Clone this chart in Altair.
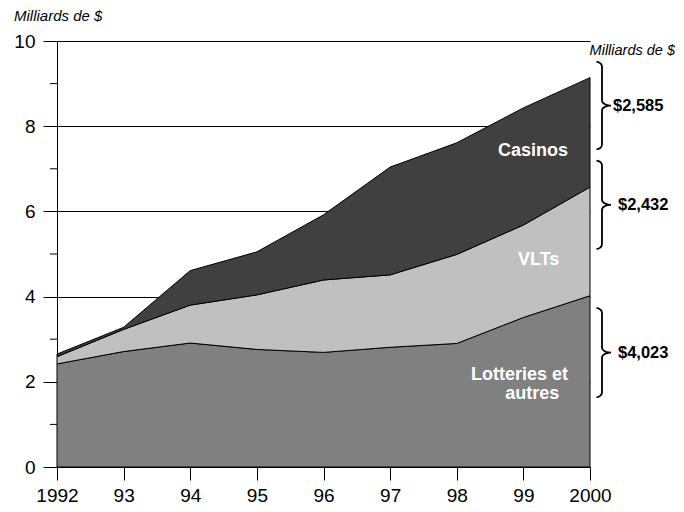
import math
import altair as alt
import pandas as pd

# ---------------- data ----------------
years = [1992, 1993, 1994, 1995, 1996, 1997, 1998, 1999, 2000]
year_labels = ["1992", "93", "94", "95", "96", "97", "98", "99", "2000"]
lotteries = [2.42, 2.71, 2.91, 2.76, 2.69, 2.81, 2.90, 3.51, 4.02]
vlts = [0.17, 0.52, 0.89, 1.28, 1.70, 1.70, 2.09, 2.17, 2.55]
casinos = [0.06, 0.05, 0.81, 1.01, 1.53, 2.53, 2.62, 2.75, 2.57]
series_names = ["Lotteries et autres", "VLTs", "Casinos"]
series_colors = ["#808080", "#c0c0c0", "#404040"]

y_major = [0, 2, 4, 6, 8, 10]
y_minor = [1, 3, 5, 7, 9]

unit_label = "Milliards de $"
brace_amounts = ["$2,585", "$2,432", "$4,023"]
brace_top = [9.51, 7.19, 3.73]
brace_bottom = [7.46, 5.12, 1.64]

inner_labels = ["Casinos", "VLTs", "Lotteries et", "autres"]
inner_x = [1999.67, 1999.54, 1999.67, 1999.54]
inner_y = [7.30, 4.74, 2.04, 1.60]

# ---------------- layout ----------------
W, H = 533, 426
FONT = "Liberation Sans"
PX_PER_YEAR = W / (years[-1] - years[0])
PX_PER_UNIT = H / 10.0

xscale = alt.Scale(domain=[years[0], years[-1]], nice=False, zero=False)
yscale = alt.Scale(domain=[0, 10], nice=False, zero=True)

# stacked area table
rows = []
for vals, name, o in zip([lotteries, vlts, casinos], series_names, range(3)):
    for yr, v in zip(years, vals):
        rows.append({"year": yr, "value": v, "series": name, "ord": o})
area_df = pd.DataFrame(rows)

label_expr = " : ".join(
    f"datum.value == {y} ? '{l}'" for y, l in zip(years, year_labels)
) + " : ''"

area = alt.Chart(area_df).mark_area(stroke="black", strokeWidth=1).encode(
    x=alt.X("year:Q", scale=xscale, title=None, axis=alt.Axis(
        values=years, labelExpr=label_expr, tickSize=13, labelPadding=6,
        labelFontSize=19, labelFont=FONT, labelColor="black",
        labelFlush=False, labelOverlap=False, labelBound=False,
        domainColor="black", tickColor="black", grid=False, title=None)),
    y=alt.Y("value:Q", stack="zero", scale=yscale, title=None, axis=alt.Axis(
        values=y_major, tickSize=14, labelPadding=8, labelFontSize=19,
        labelFont=FONT, labelColor="black", domainColor="black",
        labelFlush=False, labelOverlap=False, labelBound=False,
        tickColor="black", grid=True, gridColor="black", gridOpacity=1,
        gridWidth=1, title=None)),
    color=alt.Color("series:N", scale=alt.Scale(domain=series_names,
                                                range=series_colors),
                    legend=None),
    order=alt.Order("ord:Q", sort="ascending"),
)

# minor ticks on the y axis
minor = alt.Chart(pd.DataFrame({"v": y_minor})).mark_rule(
    color="black", strokeWidth=1).encode(
    y=alt.Y("v:Q", scale=yscale, title=None),
    x=alt.value(-7), x2=alt.value(0))

# series labels inside the areas
inner_df = pd.DataFrame({"t": inner_labels, "x": inner_x, "y": inner_y})
inner = alt.Chart(inner_df).mark_text(
    align="right", baseline="alphabetic", font=FONT, fontSize=18,
    fontWeight="bold", color="white").encode(
    x=alt.X("x:Q", scale=xscale, title=None),
    y=alt.Y("y:Q", scale=yscale, title=None), text="t:N")

# curly braces on the right, built from their value ranges
def px_to_year(dx):
    return years[-1] + dx / PX_PER_YEAR

brace_rows = []
rv = 5 / PX_PER_UNIT
hook, spine, tip = 6.5, 12.0, 21.0
for bi, (T, B) in enumerate(zip(brace_top, brace_bottom)):
    M = (T + B) / 2
    pts = []
    n = 8
    for k in range(n + 1):
        th = math.pi / 2 * k / n
        pts.append((hook + (spine - hook) * math.sin(th), T - rv + rv * math.cos(th)))
    for k in range(n + 1):
        ph = math.pi / 2 * k / n
        pts.append((tip - (tip - spine) * math.cos(ph), M + rv - rv * math.sin(ph)))
    for k in range(n, -1, -1):
        ph = math.pi / 2 * k / n
        pts.append((tip - (tip - spine) * math.cos(ph), M - rv + rv * math.sin(ph)))
    for k in range(n, -1, -1):
        th = math.pi / 2 * k / n
        pts.append((hook + (spine - hook) * math.sin(th), B + rv - rv * math.cos(th)))
    for i, (dx, yv) in enumerate(pts):
        brace_rows.append({"id": bi, "i": i, "bx": px_to_year(dx), "by": yv})
brace_df = pd.DataFrame(brace_rows)

braces = alt.Chart(brace_df).mark_line(color="black", strokeWidth=1.8).encode(
    x=alt.X("bx:Q", scale=xscale, title=None),
    y=alt.Y("by:Q", scale=yscale, title=None),
    detail="id:N", order="i:Q")

amount_dx = [23, 28, 28]
amt_df = pd.DataFrame({
    "t": brace_amounts,
    "x": [px_to_year(d) for d in amount_dx],
    "y": [(t + b) / 2 for t, b in zip(brace_top, brace_bottom)],
})
amounts = alt.Chart(amt_df).mark_text(
    align="left", baseline="middle", font=FONT, fontSize=16.5,
    fontWeight="bold", color="black").encode(
    x=alt.X("x:Q", scale=xscale, title=None),
    y=alt.Y("y:Q", scale=yscale, title=None), text="t:N")

head_left = alt.Chart(pd.DataFrame({"t": [unit_label]})).mark_text(
    align="left", baseline="alphabetic", font=FONT, fontSize=15,
    fontStyle="italic", color="black").encode(
    x=alt.value(-43), y=alt.value(-20), text="t:N")

head_right = alt.Chart(pd.DataFrame({"t": [unit_label]})).mark_text(
    align="right", baseline="alphabetic", font=FONT, fontSize=14.5,
    fontStyle="italic", color="black").encode(
    x=alt.value(618), y=alt.value(14), text="t:N")

chart = alt.layer(area, minor, inner, braces, amounts, head_left, head_right).properties(
    width=W, height=H,
    autosize=alt.AutoSizeParams(type="none"),
    padding={"left": 49, "top": 33, "right": 86, "bottom": 37},
    background="white",
).configure_view(stroke=None)

chart.save("out.html", embed_options={"renderer": "svg", "actions": False})
